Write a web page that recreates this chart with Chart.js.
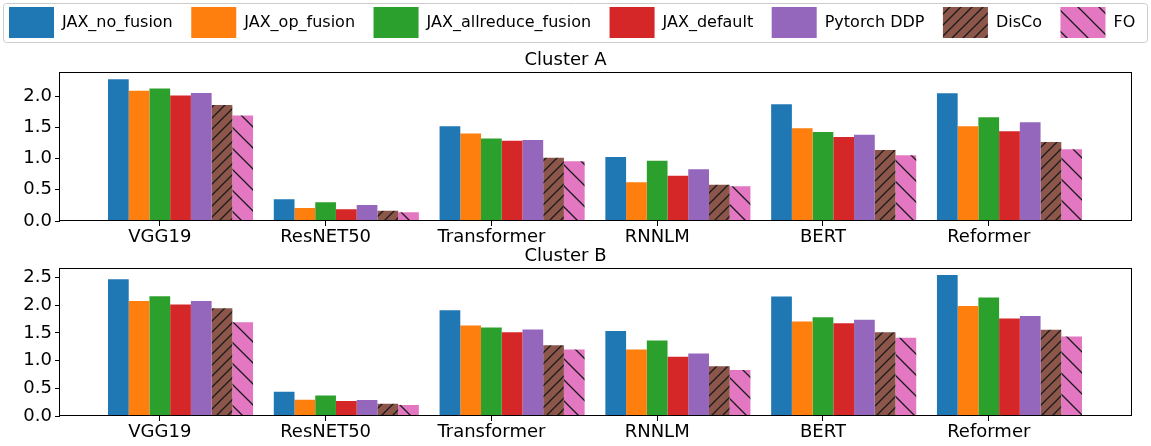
<!DOCTYPE html>
<html><head><meta charset="utf-8">
<script src="https://cdn.jsdelivr.net/npm/chart.js@4.4.0/dist/chart.umd.min.js"></script>
<style>
html,body{margin:0;padding:0;background:#fff;}
body{width:1151px;height:446px;position:relative;overflow:hidden;}
canvas{position:absolute;left:0;}
#cA{top:0;}
#cB{top:236px;}
</style></head><body>
<canvas id="cA" width="1151" height="248"></canvas>
<canvas id="cB" width="1151" height="210"></canvas>
<script>
// ---------------- data ----------------
const categories = ['VGG19', 'ResNET50', 'Transformer', 'RNNLM', 'BERT', 'Reformer'];
const seriesNames = ['JAX_no_fusion', 'JAX_op_fusion', 'JAX_allreduce_fusion', 'JAX_default', 'Pytorch DDP', 'DisCo', 'FO'];
const seriesColors = ['#1f77b4', '#ff7f0e', '#2ca02c', '#d62728', '#9467bd', '#8c564b', '#e377c2'];
const seriesHatch = [null, null, null, null, null, '/', '\\'];

// Cluster A
const noFusionA   = [2.27, 0.35, 1.515, 1.024, 1.867, 2.043];
const opFusionA   = [2.085, 0.21, 1.40, 0.619, 1.483, 1.515];
const allreduceA  = [2.12, 0.30, 1.32, 0.965, 1.424, 1.659];
const jaxDefaultA = [2.01, 0.19, 1.285, 0.725, 1.344, 1.435];
const ddpA        = [2.05, 0.256, 1.296, 0.827, 1.381, 1.579];
const discoA      = [1.856, 0.165, 1.013, 0.581, 1.136, 1.264];
const foA         = [1.69, 0.14, 0.955, 0.555, 1.051, 1.147];

// Cluster B
const noFusionB   = [2.468, 0.438, 1.91, 1.537, 2.156, 2.546];
const opFusionB   = [2.078, 0.294, 1.634, 1.20, 1.706, 1.988];
const allreduceB  = [2.162, 0.372, 1.598, 1.364, 1.784, 2.138];
const jaxDefaultB = [2.012, 0.27, 1.514, 1.069, 1.676, 1.76];
const ddpB        = [2.078, 0.288, 1.562, 1.129, 1.736, 1.808];
const discoB      = [1.946, 0.222, 1.279, 0.90, 1.514, 1.556];
const foB         = [1.694, 0.198, 1.20, 0.829, 1.411, 1.435];

const yTicksA = [0.0, 0.5, 1.0, 1.5, 2.0];
const yTicksB = [0.0, 0.5, 1.0, 1.5, 2.0, 2.5];

// ---------------- rendering ----------------
const FONT = '"DejaVu Sans", "Liberation Sans", sans-serif';
const CAT_PCT = 0.875;
const N = seriesNames.length;

function hatchPattern(ctx, color, dir, size) {
  const c = document.createElement('canvas');
  c.width = size; c.height = size;
  const g = c.getContext('2d');
  g.fillStyle = color;
  g.fillRect(0, 0, size, size);
  g.strokeStyle = '#1a1a1a';
  g.lineWidth = 1.3;
  g.beginPath();
  if (dir === '/') {
    [0, size, 2 * size].forEach(k => { g.moveTo(k + 1, -1); g.lineTo(k - size - 1, size + 1); });
  } else {
    [-size, 0, size].forEach(k => { g.moveTo(k - 1, -1); g.lineTo(k + size + 1, size + 1); });
  }
  g.stroke();
  return ctx.createPattern(c, 'repeat');
}

function fillFor(ctx, i) {
  if (seriesHatch[i] === '/') return hatchPattern(ctx, seriesColors[i], '/', 11);
  if (seriesHatch[i] === '\\') return hatchPattern(ctx, seriesColors[i], '\\', 21);
  return seriesColors[i];
}

const framePlugin = {
  id: 'frame',
  afterDatasetsDraw(chart) {
    const a = chart.chartArea, ctx = chart.ctx;
    ctx.save();
    ctx.strokeStyle = '#000';
    ctx.lineWidth = 1;
    ctx.strokeRect(Math.round(a.left) - 0.5, Math.round(a.top) + 0.5,
                   Math.round(a.right) - Math.round(a.left) + 1, Math.round(a.bottom) - Math.round(a.top) - 1);
    ctx.restore();
  }
};

const legendPlugin = {
  id: 'legendBox',
  afterDraw(chart) {
    const ctx = chart.ctx;
    ctx.save();
    ctx.beginPath();
    if (ctx.roundRect) ctx.roundRect(3.5, 3.5, 1144, 39, 3); else ctx.rect(3.5, 3.5, 1144, 39);
    ctx.fillStyle = 'rgba(255,255,255,0.8)';
    ctx.fill();
    ctx.strokeStyle = '#cccccc';
    ctx.lineWidth = 1;
    ctx.stroke();
    ctx.font = '16px ' + FONT;
    ctx.textBaseline = 'alphabetic';
    let x = 9;
    chart.data.datasets.forEach(ds => {
      ctx.fillStyle = ds.backgroundColor;
      ctx.fillRect(x, 7, 45, 31);
      ctx.fillStyle = '#000';
      ctx.fillText(ds.label, x + 53, 27);
      x += 53 + ctx.measureText(ds.label).width + 18.5;
    });
    ctx.restore();
  }
};

function makeChart(canvasId, title, seriesVals, yMax, yTicks, layoutTop, titlePad, xAxisH, withLegend) {
  const canvas = document.getElementById(canvasId);
  const ctx = canvas.getContext('2d');
  const datasets = seriesVals.map((vals, i) => ({
    label: seriesNames[i],
    data: vals.map((v, j) => ({ x: j, y: v })),
    backgroundColor: fillFor(ctx, i),
    borderWidth: 0,
    categoryPercentage: CAT_PCT,
    barPercentage: 1.0
  }));
  return new Chart(ctx, {
    type: 'bar',
    data: { datasets },
    plugins: withLegend ? [framePlugin, legendPlugin] : [framePlugin],
    options: {
      responsive: false,
      animation: false,
      events: [],
      layout: { padding: { top: layoutTop, right: 20, left: 0, bottom: 0 } },
      plugins: {
        legend: { display: false },
        tooltip: { enabled: false },
        title: {
          display: true, text: title, color: '#000',
          font: { family: FONT, size: 18, weight: 'normal' },
          padding: titlePad
        }
      },
      scales: {
        x: {
          type: 'linear',
          offset: false,
          min: -0.727, max: 5.733,
          afterBuildTicks: s => { s.ticks = categories.map((_, i) => ({ value: i - CAT_PCT / N })); },
          afterFit: s => { s.height = xAxisH; },
          ticks: {
            callback: (v, idx) => categories[idx],
            color: '#000', font: { family: FONT, size: 18 },
            padding: 1, maxRotation: 0, autoSkip: false, includeBounds: false
          },
          grid: { display: true, offset: false, drawOnChartArea: false, drawTicks: true, tickLength: 5, color: '#000' },
          border: { display: false }
        },
        y: {
          min: 0, max: yMax,
          afterBuildTicks: s => { s.ticks = yTicks.map(v => ({ value: v })); },
          afterFit: s => { s.width = 60; },
          ticks: {
            callback: v => Number(v).toFixed(1),
            color: '#000', font: { family: FONT, size: 18 },
            padding: 3, includeBounds: false
          },
          grid: { display: true, offset: false, drawOnChartArea: false, drawTicks: true, tickLength: 5, color: '#000' },
          border: { display: false }
        }
      }
    }
  });
}

makeChart('cA', 'Cluster A',
  [noFusionA, opFusionA, allreduceA, jaxDefaultA, ddpA, discoA, foA],
  2.38, yTicksA, 44, { top: 5.2, bottom: 1.5 }, 27, true);

makeChart('cB', 'Cluster B',
  [noFusionB, opFusionB, allreduceB, jaxDefaultB, ddpB, discoB, foB],
  2.68, yTicksB, 10, { top: 0, bottom: 0 }, 30, false);
</script>
</body></html>
